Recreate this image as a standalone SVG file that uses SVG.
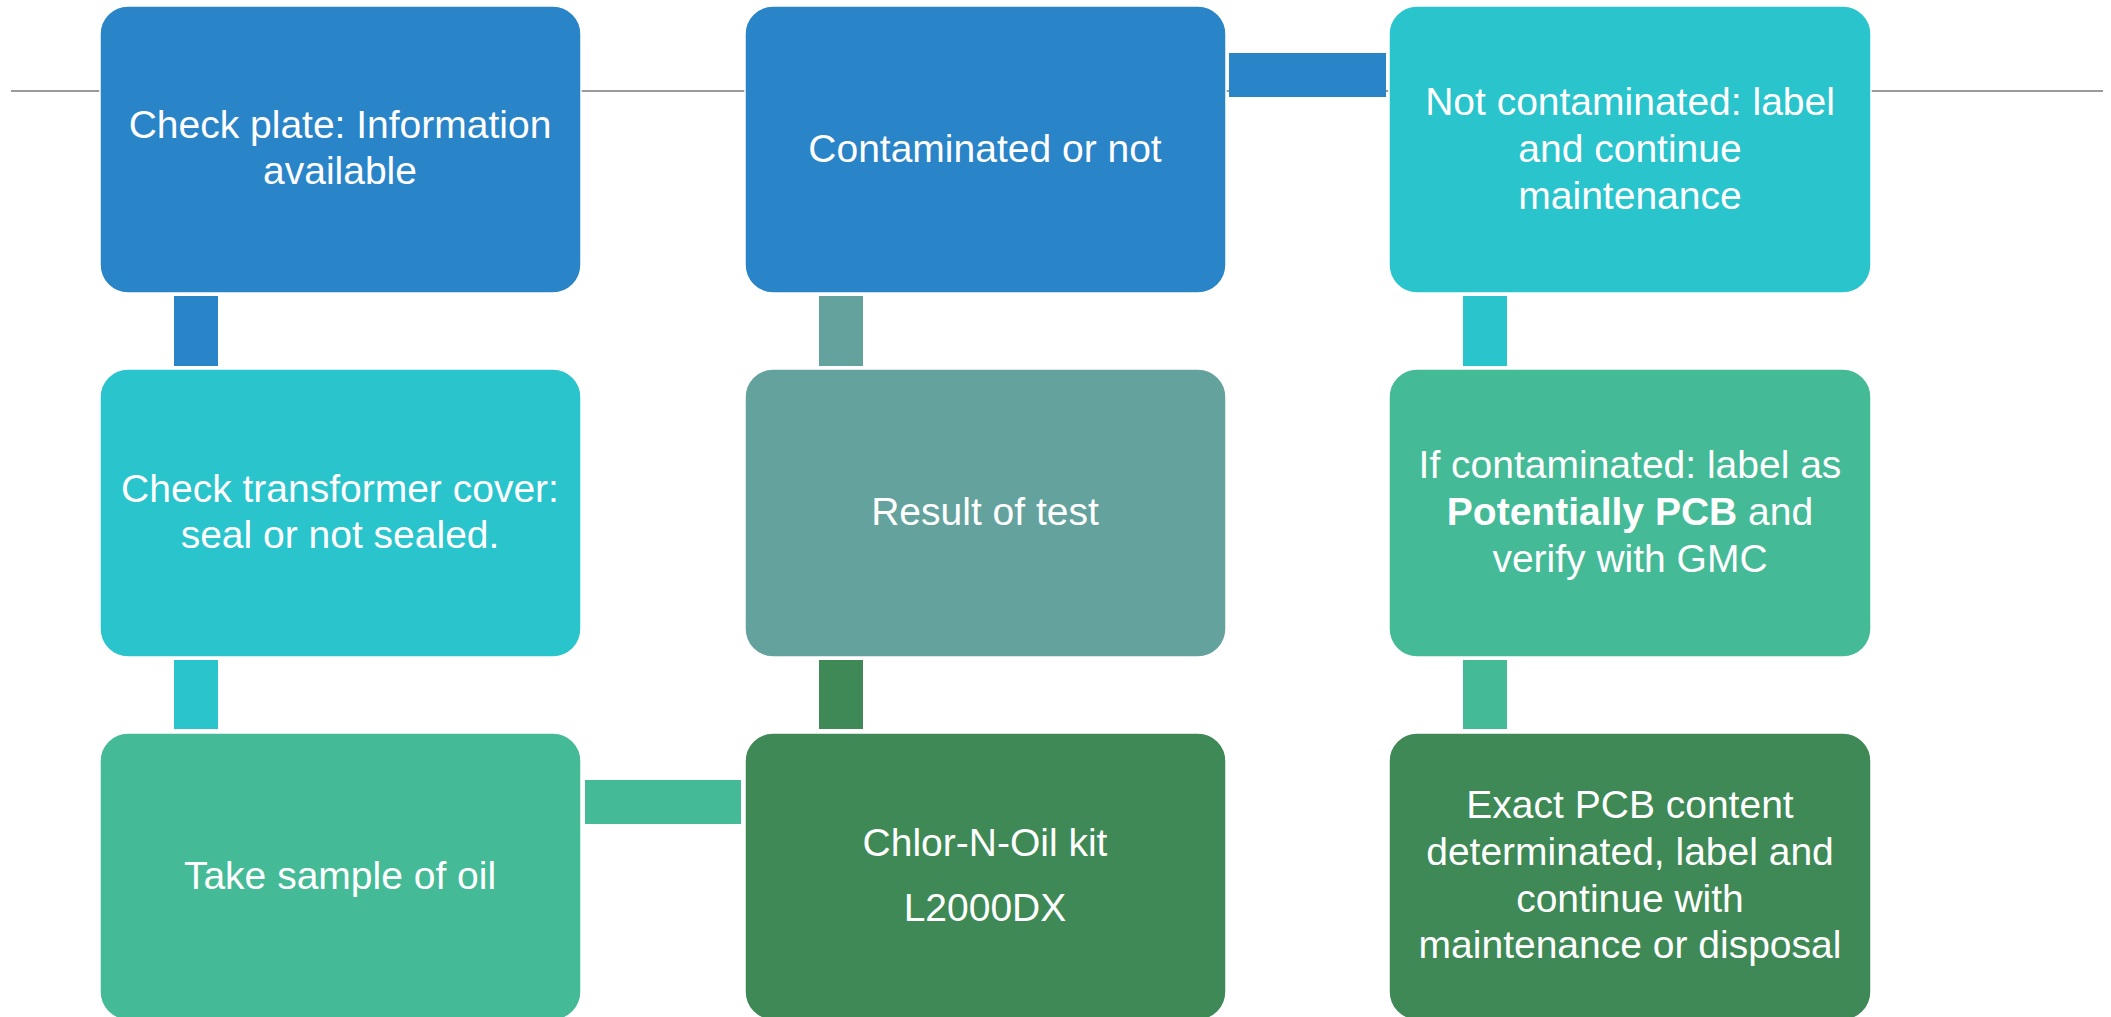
<svg xmlns="http://www.w3.org/2000/svg" width="2111" height="1017" viewBox="0 0 2111 1017">
<style>
.box{stroke:#ffffff;stroke-width:1.5}
.t{font-family:"Liberation Sans",Arial,sans-serif;font-size:39px;fill:#ffffff;text-anchor:middle}
.b{font-weight:bold}
.blue{fill:#2984C8}.teal{fill:#29C4CC}.green{fill:#44BA97}.grey{fill:#64A29E}.dark{fill:#3E8956}
</style>
<rect width="2111" height="1017" fill="#ffffff"/>
<line x1="11" y1="91" x2="2103" y2="91" stroke="#9a9a9a" stroke-width="2"/>
<g id="connectors">
<rect class="blue" x="174" y="296" width="44" height="70"/>
<rect class="teal" x="174" y="660" width="44" height="69"/>
<rect class="green" x="585" y="780" width="156" height="44"/>
<rect class="dark" x="819" y="660" width="44" height="69"/>
<rect class="grey" x="819" y="296" width="44" height="70"/>
<rect class="blue" x="1229" y="53" width="157" height="44"/>
<rect class="teal" x="1463" y="296" width="44" height="70"/>
<rect class="green" x="1463" y="660" width="44" height="69"/>
</g>
<g id="n1">
<rect class="box blue" x="100" y="6" width="481" height="287" rx="28"/>
<text class="t" x="340" y="138">Check plate: Information</text>
<text class="t" x="340" y="184">available</text>
</g>
<g id="n2">
<rect class="box teal" x="100" y="369" width="481" height="288" rx="28"/>
<text class="t" x="340" y="502">Check transformer cover:</text>
<text class="t" x="340" y="548">seal or not sealed.</text>
</g>
<g id="n3">
<rect class="box green" x="100" y="733" width="481" height="287" rx="28"/>
<text class="t" x="340" y="889">Take sample of oil</text>
</g>
<g id="n4">
<rect class="box dark" x="745" y="733" width="481" height="287" rx="28"/>
<text class="t" x="985" y="856">Chlor-N-Oil kit</text>
<text class="t" x="985" y="921">L2000DX</text>
</g>
<g id="n5">
<rect class="box grey" x="745" y="369" width="481" height="288" rx="28"/>
<text class="t" x="985" y="525">Result of test</text>
</g>
<g id="n6">
<rect class="box blue" x="745" y="6" width="481" height="287" rx="28"/>
<text class="t" x="985" y="162">Contaminated or not</text>
</g>
<g id="n7">
<rect class="box teal" x="1389" y="6" width="482" height="287" rx="28"/>
<text class="t" x="1630" y="115">Not contaminated: label</text>
<text class="t" x="1630" y="162">and continue</text>
<text class="t" x="1630" y="209">maintenance</text>
</g>
<g id="n8">
<rect class="box green" x="1389" y="369" width="482" height="288" rx="28"/>
<text class="t" x="1630" y="478">If contaminated: label as</text>
<text class="t" x="1630" y="525"><tspan class="b">Potentially PCB</tspan> and</text>
<text class="t" x="1630" y="572">verify with GMC</text>
</g>
<g id="n9">
<rect class="box dark" x="1389" y="733" width="482" height="287" rx="28"/>
<text class="t" x="1630" y="818">Exact PCB content</text>
<text class="t" x="1630" y="865">determinated, label and</text>
<text class="t" x="1630" y="912">continue with</text>
<text class="t" x="1630" y="958">maintenance or disposal</text>
</g>
</svg>
